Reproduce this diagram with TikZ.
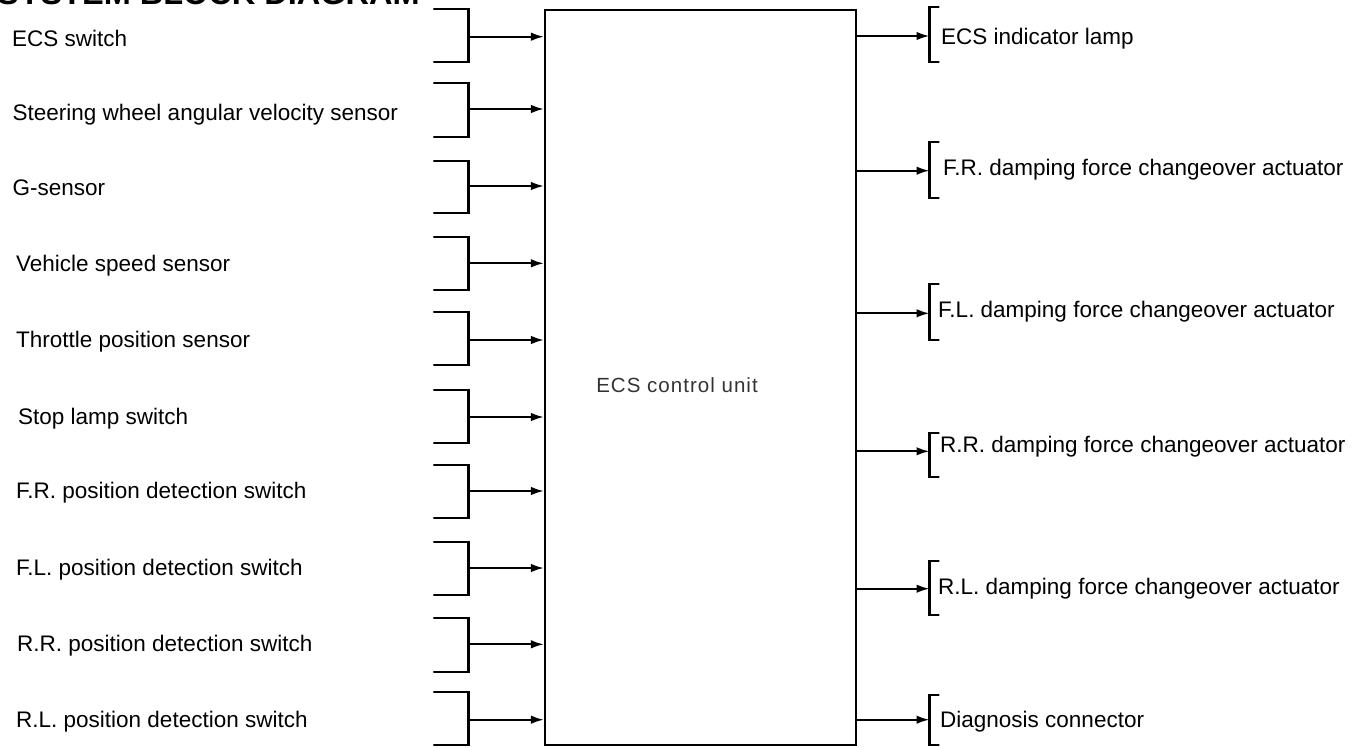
\documentclass[tikz,border=0pt]{standalone}
\usepackage{fontspec}
\setmainfont{Liberation Sans}
\newfontfamily\boxfont[LetterSpace=5]{Liberation Sans}
\usetikzlibrary{arrows.meta}
\begin{document}
\begin{tikzpicture}[x=1pt,y=-1pt,
  wire/.style={line width=2.1pt,line cap=round,line join=miter},
  feed/.style={line width=2.1pt,-{Latex[length=13pt,width=8.5pt]}},
  lbl/.style={anchor=base west,inner sep=0pt,font=\fontsize{22.5}{24}\selectfont},
  ]
\useasboundingbox (0,0) rectangle (1359,747);
\clip (0,0) rectangle (1359,747);
\fill[white] (0,0) rectangle (1359,747);
% title (cut off at top)
\node[anchor=base west,inner sep=0pt,font=\bfseries\fontsize{32.5}{34}\selectfont] (title) at (-3,4.5) {SYSTEM BLOCK DIAGRAM};
% control unit
\node[draw,line width=2.1pt,minimum width=311pt,minimum height=735pt,inner sep=0pt] (ecu) at (700.5,377.5) {};
\node[inner sep=0pt,font=\boxfont\fontsize{20.5}{22}\selectfont,text=black!80] (ecutext) at (677,385) {ECS control unit};
% inputs: name/label x/arrow y/top/bottom/baseline
\foreach \i/\txt/\lx/\ay/\tp/\bt/\bl in {
  1/ECS switch/12/36.7/9.3/61.7/46.5,
  2/Steering wheel angular velocity sensor/12.5/109/82.7/136.7/120,
  3/G-sensor/12.5/186/160.7/212.7/195,
  4/Vehicle speed sensor/16/263.3/236.7/290/271.5,
  5/Throttle position sensor/16/340/312.3/365/347.5,
  6/Stop lamp switch/18/417/390.3/443/424,
  7/F.R. position detection switch/16/491/465.3/517.7/498.5,
  8/F.L. position detection switch/16/568/542/595.3/575,
  9/R.R. position detection switch/17/644.3/617.7/672/651.3,
  10/R.L. position detection switch/16/719.7/692/745/727}{
  \node[lbl] (in\i) at (\lx,\bl) {\txt};
  \coordinate (inT\i) at (434,\tp);
  \coordinate (inS\i) at (468.5,\ay);
  \coordinate (inB\i) at (434,\bt);
  \draw[wire] (inT\i) -- (inT\i -| inS\i) -- (inB\i -| inS\i) -- (inB\i);
  \draw[feed] (inS\i) -- (inS\i -| ecu.west);
}
% outputs: name/label x/arrow y/top/bottom/baseline
\foreach \i/\txt/\lx/\ay/\tp/\bt/\bl in {
  1/ECS indicator lamp/941/36/7.3/62/44,
  2/F.R. damping force changeover actuator/943/170.7/142.3/198.3/175,
  3/F.L. damping force changeover actuator/938/313.3/284.3/340/317,
  4/R.R. damping force changeover actuator/940/451.3/432.7/477/452,
  5/R.L. damping force changeover actuator/938/588.7/561/615.3/594,
  6/Diagnosis connector/940/719.7/695.3/745/727}{
  \node[lbl] (out\i) at (\lx,\bl) {\txt};
  \coordinate (outS\i) at (929.5,\ay);
  \coordinate (outT\i) at (938.7,\tp);
  \coordinate (outB\i) at (938.7,\bt);
  \draw[wire] (outT\i) -- (outT\i -| outS\i) -- (outB\i -| outS\i) -- (outB\i);
  \draw[feed] (outS\i -| ecu.east) -- (outS\i);
}
\end{tikzpicture}
\end{document}
